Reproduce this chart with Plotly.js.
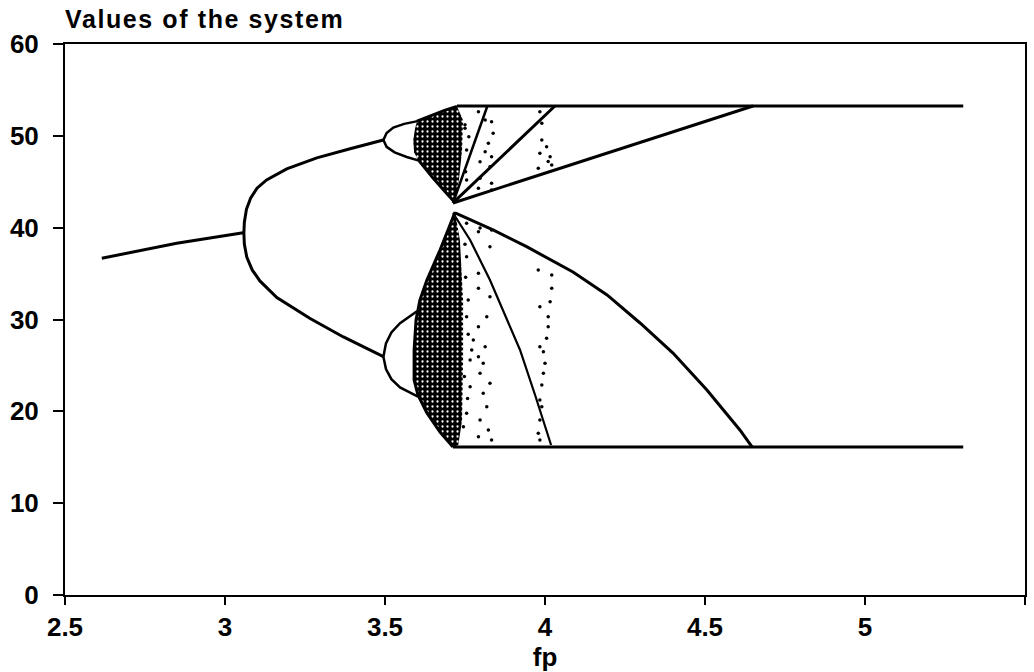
<!DOCTYPE html>
<html>
<head>
<meta charset="utf-8">
<script src="https://cdn.plot.ly/plotly-3.0.1.min.js"></script>
<style>
  html, body { margin: 0; padding: 0; background: #fff; }
  #chart { width: 1034px; height: 672px; }
  .gtitle { letter-spacing: 1.6px; }
</style>
</head>
<body>
<div id="chart"></div>
<script>
// Bifurcation diagram of the system versus the parameter fp.

// Single fixed point
const fixedX = [2.615, 2.849, 3.057];
const fixedY = [36.67, 38.30, 39.45];

// Period-2 branches
const p2UpperX = [3.059, 3.0605, 3.067, 3.080, 3.100, 3.130, 3.193, 3.287, 3.391, 3.495];
const p2UpperY = [39.42, 40.60, 42.00, 43.20, 44.30, 45.20, 46.40, 47.60, 48.60, 49.55];
const p2LowerX = [3.059, 3.0605, 3.068, 3.085, 3.109, 3.162, 3.266, 3.370, 3.495];
const p2LowerY = [39.42, 38.20, 36.80, 35.40, 34.20, 32.40, 30.10, 28.10, 25.95];

// Period-4 branches
const p4aX = [3.495, 3.505, 3.526, 3.560, 3.602];
const p4aY = [49.55, 50.30, 50.90, 51.30, 51.60];
const p4bX = [3.495, 3.505, 3.530, 3.568, 3.606];
const p4bY = [49.55, 48.80, 48.20, 47.70, 47.30];
const p4cX = [3.495, 3.503, 3.520, 3.547, 3.600];
const p4cY = [25.95, 27.40, 28.60, 29.60, 30.90];
const p4dX = [3.495, 3.503, 3.520, 3.547, 3.603];
const p4dY = [25.95, 24.60, 23.50, 22.60, 21.60];

// Outlines of the two chaotic bands
const upperBandX = [3.600, 3.641, 3.688, 3.725, 3.744, 3.741, 3.731, 3.719, 3.688, 3.650, 3.609, 3.591, 3.588, 3.594, 3.600];
const upperBandY = [51.6, 52.2, 52.8, 53.2, 51.7, 48.5, 45.2, 42.7, 43.9, 45.4, 47.0, 48.2, 49.5, 50.8, 51.6];
const lowerBandX = [3.719, 3.734, 3.744, 3.744, 3.741, 3.728, 3.7125, 3.672, 3.631, 3.603, 3.591, 3.591, 3.597, 3.609, 3.631, 3.672, 3.703, 3.719];
const lowerBandY = [41.71, 38.66, 32.12, 25.59, 19.06, 16.12, 16.12, 17.75, 19.82, 21.78, 23.41, 26.68, 29.95, 32.12, 34.30, 37.57, 40.29, 41.71];

// Dark outer edges of the bands
const upperEdgeTopX = [3.600, 3.641, 3.688, 3.725];
const upperEdgeTopY = [51.6, 52.2, 52.8, 53.2];
const upperEdgeLowX = [3.606, 3.650, 3.688, 3.719];
const upperEdgeLowY = [47.3, 45.4, 43.9, 42.7];
const lowerEdgeX = [3.7125, 3.672, 3.631, 3.603, 3.591, 3.591, 3.597, 3.609, 3.631, 3.672, 3.703, 3.719];
const lowerEdgeY = [16.12, 17.75, 19.82, 21.78, 23.41, 26.68, 29.95, 32.12, 34.30, 37.57, 40.29, 41.71];

// Outer attractor levels
const topLevelX = [3.725, 5.307];
const topLevelY = [53.25, 53.25];
const bottomLevelX = [3.7125, 5.307];
const bottomLevelY = [16.12, 16.12];

// Straight branches fanning out from the band merge point
const rayAX = [3.7125, 4.031];
const rayAY = [42.69, 53.25];
const rayBX = [3.7125, 4.650];
const rayBY = [42.69, 53.25];
const rayCX = [3.7125, 3.820];
const rayCY = [42.69, 53.25];

// Curved branch from the top of the lower band down to the bottom level
const arcX = [3.719, 3.8375, 3.944, 4.0875, 4.194, 4.297, 4.400, 4.506, 4.609, 4.647];
const arcY = [41.60, 39.75, 37.90, 35.17, 32.67, 29.62, 26.35, 22.32, 17.97, 16.12];

// Steep densely dotted branch
const steepX = [3.7125, 3.766, 3.828, 3.875, 3.922, 3.969, 4.019];
const steepY = [41.60, 38.66, 34.30, 30.49, 26.68, 21.78, 16.33];

// Scattered iterates outside the dense bands
const dotsX = [
  3.792, 3.813, 3.833, 3.838, 3.823, 3.813, 3.833, 3.828, 3.797, 3.797, 3.833, 3.792, 3.833, 3.755, 3.750, 3.755,
  3.984, 3.990, 3.990, 4.005, 4.010, 4.016, 4.021, 3.984, 3.979,
  3.755, 3.792, 3.828, 3.755, 3.792, 3.792, 3.828, 3.760, 3.755, 3.818, 3.792, 3.776, 3.813, 3.792, 3.807, 3.797,
  3.828, 3.807, 3.818, 3.797, 3.823, 3.833, 3.792, 3.745, 3.755, 3.766, 3.766, 3.771, 3.797, 3.833,
  3.979, 4.021, 4.021, 4.016, 3.984, 4.010, 4.010, 4.005, 3.984, 3.995, 4.000, 3.995, 3.990, 3.984, 3.990, 3.984, 3.979, 3.984,
  3.750, 3.752, 3.760, 3.748, 3.758, 3.750, 3.762, 3.752
];
const dotsY = [
  52.63, 51.73, 51.54, 50.28, 49.19, 48.27, 47.73, 46.64, 47.18, 45.38, 44.83, 44.29, 44.10, 45.19, 50.82, 48.46,
  52.63, 51.37, 49.55, 48.82, 47.20, 47.73, 46.83, 48.10, 46.47,
  40.48, 39.56, 37.93, 36.84, 35.03, 33.40, 32.48, 32.12, 30.31, 30.31, 29.22, 27.77, 27.04, 25.95, 25.23, 24.14,
  23.05, 21.96, 20.50, 19.06, 17.97, 16.88, 17.24, 18.33, 19.79, 22.68, 25.59, 26.68, 39.97, 39.75,
  35.39, 34.84, 33.40, 31.94, 31.39, 30.31, 29.22, 27.95, 27.04, 26.49, 25.23, 24.14, 22.87, 21.23, 20.50, 19.06, 17.61, 16.88,
  38.20, 34.60, 28.40, 23.80, 21.40, 51.20, 49.90, 46.10
];

const axisFont = { family: 'Liberation Sans, Arial, sans-serif', size: 26, color: '#000', weight: 'bold' };

function branch(x, y, w) {
  return { x: x, y: y, type: 'scatter', mode: 'lines', line: { color: '#000', width: w || 3 },
           hoverinfo: 'skip', showlegend: false };
}

function band(x, y) {
  return { x: x, y: y, type: 'scatter', mode: 'lines', fill: 'toself',
           fillcolor: 'rgba(0,0,0,0)',
           fillpattern: { shape: '.', fgcolor: '#fff', bgcolor: '#000', size: 5, solidity: 0.16 },
           line: { color: 'rgba(0,0,0,0)', width: 0 }, hoverinfo: 'skip', showlegend: false };
}

const traces = [
  band(upperBandX, upperBandY),
  band(lowerBandX, lowerBandY),
  branch(upperEdgeTopX, upperEdgeTopY, 3),
  branch(upperEdgeLowX, upperEdgeLowY, 3),
  branch(lowerEdgeX, lowerEdgeY, 3),
  branch(fixedX, fixedY),
  branch(p2UpperX, p2UpperY),
  branch(p2LowerX, p2LowerY),
  branch(p4aX, p4aY, 2.5),
  branch(p4bX, p4bY, 2.5),
  branch(p4cX, p4cY, 2.5),
  branch(p4dX, p4dY, 2.5),
  branch(topLevelX, topLevelY),
  branch(bottomLevelX, bottomLevelY),
  branch(rayAX, rayAY),
  branch(rayBX, rayBY),
  branch(rayCX, rayCY, 2.5),
  branch(arcX, arcY),
  branch(steepX, steepY, 2.2),
  { x: dotsX, y: dotsY, type: 'scatter', mode: 'markers',
    marker: { color: '#000', size: 3.5 }, hoverinfo: 'skip', showlegend: false }
];

const layout = {
  width: 1034,
  height: 672,
  margin: { l: 65, r: 9, t: 44, b: 77 },
  paper_bgcolor: '#fff',
  plot_bgcolor: '#fff',
  showlegend: false,
  title: {
    text: 'Values of the system',
    font: { family: 'Liberation Sans, Arial, sans-serif', size: 25, color: '#000', weight: 'bold' },
    xref: 'paper', x: 0, xanchor: 'left',
    yref: 'container', y: 0.972, yanchor: 'middle'
  },
  xaxis: {
    range: [2.5, 5.5],
    tickvals: [2.5, 3, 3.5, 4, 4.5, 5, 5.5],
    ticktext: ['2.5', '3', '3.5', '4', '4.5', '5', '5.5'],
    ticks: 'outside', ticklen: 8, tickwidth: 2, tickcolor: '#000',
    ticklabelstandoff: 0,
    showline: true, linewidth: 2, linecolor: '#000', mirror: true,
    showgrid: false, zeroline: false,
    tickfont: axisFont,
    title: { text: 'fp', font: axisFont, standoff: 0 }
  },
  yaxis: {
    range: [0, 60],
    tickvals: [0, 10, 20, 30, 40, 50, 60],
    ticks: 'outside', ticklen: 10, tickwidth: 2, tickcolor: '#000',
    ticklabelstandoff: 9,
    showline: true, linewidth: 2, linecolor: '#000', mirror: true,
    showgrid: false, zeroline: false,
    tickfont: axisFont
  }
};

Plotly.newPlot('chart', traces, layout, { staticPlot: true, displayModeBar: false });
</script>
</body>
</html>
